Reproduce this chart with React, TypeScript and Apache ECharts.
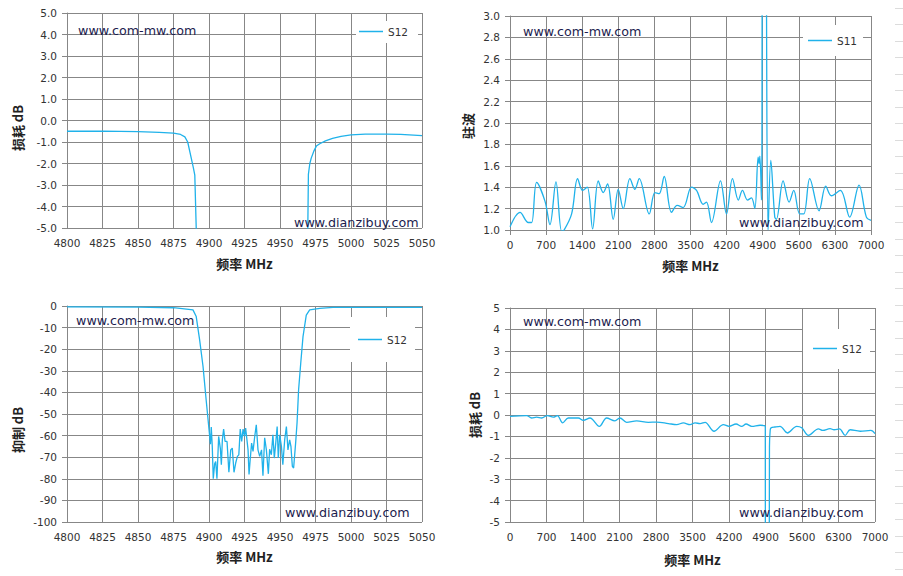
import React, { useEffect, useRef } from 'react';
import * as echarts from 'echarts';

// Chart 1: passband insertion loss (4800-5050 MHz)
const passFreq = [4800, 4825, 4850, 4865, 4875, 4880, 4883, 4885, 4887.5, 4889, 4890, 4891.2, 4900, 4960, 4969.5, 4970, 4971, 4972, 4974, 4975.6, 4978, 4982, 4987, 4993, 5000, 5010, 5025, 5035, 5050];
const passLoss = [-0.5, -0.49, -0.52, -0.55, -0.59, -0.65, -0.76, -1.0, -1.75, -2.2, -2.54, -5.5, -30, -30, -5.5, -2.5, -2.0, -1.75, -1.4, -1.19, -1.08, -0.95, -0.83, -0.74, -0.67, -0.63, -0.63, -0.65, -0.7];

// Chart 2: VSWR (0-7000 MHz)
const vswrFreq = [0, 194, 355, 420, 517, 678, 775, 891, 1001, 1050, 1195, 1311, 1408, 1498, 1602, 1711, 1808, 1892, 2002, 2099, 2196, 2325, 2422, 2506, 2700, 2809, 2893, 2990, 3132, 3242, 3358, 3520, 3617, 3746, 3810, 3907, 4081, 4198, 4314, 4427, 4508, 4605, 4682, 4747, 4811, 4830, 4845, 4876, 4889, 4900, 4960, 4973, 5005, 5057, 5134, 5166, 5296, 5412, 5502, 5618, 5696, 5812, 5993, 6122, 6232, 6406, 6587, 6768, 6910, 7000];
const vswrValue = [1.03, 1.165, 1.07, 1.07, 1.445, 1.27, 1.05, 1.45, 0.99, 1.0, 1.15, 1.48, 1.37, 1.4, 1.01, 1.46, 1.35, 1.43, 1.1, 1.38, 1.2, 1.48, 1.38, 1.48, 1.15, 1.35, 1.34, 1.5, 1.165, 1.23, 1.21, 1.4, 1.37, 1.24, 1.26, 1.07, 1.46, 1.15, 1.48, 1.28, 1.37, 1.28, 1.3, 1.2, 1.68, 1.62, 1.69, 1.28, 3.2, 6, 6, 3.2, 1.0, 1.65, 1.12, 1.1, 1.46, 1.26, 1.37, 1.15, 1.15, 1.48, 1.18, 1.41, 1.32, 1.37, 1.12, 1.42, 1.12, 1.09];

// Chart 3: rejection (4800-5050 MHz)
const rejFreq = [4800, 4850, 4875, 4888.7, 4891, 4893.4, 4895.8, 4898, 4900, 4901, 4901.6, 4902.3, 4903, 4904, 4904.7, 4905.6, 4906.8, 4908, 4908.7, 4909.4, 4910.3, 4911.3, 4912.7, 4914, 4915.3, 4916.4, 4917.6, 4918.8, 4920, 4921, 4922, 4923, 4924, 4925, 4925.8, 4927.5, 4928.2, 4929, 4930, 4931, 4932.2, 4933.3, 4934.5, 4935.7, 4937, 4938, 4939.2, 4940.4, 4941.8, 4942.7, 4943.9, 4945, 4946, 4947, 4948, 4948.8, 4949.8, 4951, 4952, 4953.3, 4954.5, 4955.6, 4956.8, 4957.7, 4958.7, 4959.6, 4961, 4962, 4963.1, 4964.6, 4966.2, 4968.5, 4970.9, 4978, 4987.3, 5050];
const rejDb = [-0.4, -0.5, -0.8, -1.8, -4.9, -15.7, -28, -43.5, -57, -64, -56, -65, -80, -73, -72, -80, -60.4, -66, -73.5, -62, -57, -62.7, -62.7, -77, -66.6, -65.8, -77, -72.7, -69.6, -68.9, -57, -62.7, -57, -60.4, -56.5, -66.6, -78, -71.2, -63.5, -67.3, -60.4, -55, -66.6, -69.6, -66.6, -78.6, -61, -66.6, -77.7, -66.3, -68.9, -59.6, -70.4, -63.5, -55.8, -70.4, -59.6, -65, -73.5, -62, -55.8, -66.6, -62, -65, -74.2, -75, -63.5, -54.2, -38.8, -26.5, -14.2, -4.2, -1.8, -1.1, -0.6, -0.6];

// Chart 4: wideband insertion loss (0-7000 MHz)
const wideFreq = [0, 320, 415, 511, 607, 716, 831, 908, 1010, 1119, 1311, 1406, 1534, 1713, 1853, 2013, 2109, 2237, 2429, 2653, 2813, 3037, 3197, 3325, 3453, 3549, 3645, 3741, 3913, 4092, 4201, 4335, 4444, 4527, 4636, 4796, 4885, 4896, 4898, 4960, 4972, 4976, 4990, 5006, 5083, 5179, 5320, 5499, 5595, 5723, 5915, 5998, 6139, 6216, 6319, 6428, 6524, 6716, 6921, 7000];
const wideLoss = [-0.06, -0.03, -0.14, -0.1, -0.14, -0.03, -0.1, -0.03, -0.37, -0.14, -0.14, -0.25, -0.14, -0.53, -0.14, -0.27, -0.14, -0.34, -0.27, -0.34, -0.33, -0.4, -0.45, -0.37, -0.45, -0.37, -0.4, -0.34, -0.76, -0.45, -0.53, -0.42, -0.53, -0.42, -0.53, -0.48, -0.5, -0.6, -8, -20, -8, -1.5, -0.7, -0.6, -0.56, -0.53, -0.84, -0.53, -0.6, -0.95, -0.65, -0.72, -0.64, -0.69, -0.65, -0.95, -0.69, -0.76, -0.72, -0.87];

const seriesNames = ['S12', 'S11', 'S12', 'S12'];
const yNames = ['损耗 dB', '驻波', '抑制 dB', '损耗 dB'];
const xName = '频率 MHz';
const watermarkTop = 'www.com-mw.com';
const watermarkBottom = 'www.dianzibuy.com';

const LINE = '#20b2ea';
const GRID = '#878787';
const FONT = 'DejaVu Sans, Verdana, sans-serif';
const CJK = 'Noto Sans CJK SC, sans-serif';

const zip = (xs: number[], ys: number[]) => xs.map((x, i) => [x, ys[i]]);

export default function App() {
  const ref = useRef<HTMLDivElement>(null);
  useEffect(() => {
    if (!ref.current) return;
    const chart = echarts.init(ref.current, null, { renderer: 'svg' });

    const grids = [
      { left: 67, top: 13, width: 355, height: 215 },
      { left: 510, top: 16, width: 361, height: 214 },
      { left: 67, top: 306, width: 355, height: 216 },
      { left: 510, top: 308, width: 365, height: 214 },
    ];
    const xRanges = [
      [4800, 5050, 25],
      [0, 7000, 700],
      [4800, 5050, 25],
      [0, 7000, 700],
    ];
    const yRanges = [
      [-5, 5, 1],
      [1, 3, 0.2],
      [-100, 0, 10],
      [-5, 5, 1],
    ];
    const yDigits = [1, 1, 0, 0];
    const yNameGaps = [43, 36, 43, 29];
    const yNameShift = [15, 6, 32, 0];
    const xNameGaps = [29, 29, 28, 31];

    const axisLine = { show: true, lineStyle: { color: GRID, width: 1 } };
    const axisTick = { show: true, length: 5, lineStyle: { color: GRID, width: 1 } };
    const splitLine = { show: true, lineStyle: { color: GRID, width: 1 } };
    const labelStyle = { color: '#333', fontSize: 10.5, fontFamily: FONT };
    const nameStyle = { color: '#222', fontSize: 13, fontWeight: 'bold' as const, fontFamily: CJK };

    const xAxis = xRanges.map((r, i) => ({
      type: 'value' as const,
      gridIndex: i,
      min: r[0],
      max: r[1],
      interval: r[2],
      name: xName,
      nameLocation: 'middle' as const,
      nameGap: xNameGaps[i],
      nameTextStyle: nameStyle,
      axisLine,
      axisTick,
      splitLine,
      axisLabel: { ...labelStyle, margin: 9, formatter: (v: number) => String(Math.round(v)) },
    }));

    const yAxis = yRanges.map((r, i) => ({
      type: 'value' as const,
      gridIndex: i,
      min: r[0],
      max: r[1],
      interval: r[2],
      name: yNames[i],
      nameLocation: 'middle' as const,
      nameGap: yNameGaps[i],
      nameTextStyle: { ...nameStyle, padding: [0, yNameShift[i], 0, 0] },
      axisLine,
      axisTick,
      splitLine,
      axisLabel: { ...labelStyle, margin: 10, formatter: (v: number) => v.toFixed(yDigits[i]) },
    }));

    const datasets = [
      zip(passFreq, passLoss),
      zip(vswrFreq, vswrValue),
      zip(rejFreq, rejDb),
      zip(wideFreq, wideLoss),
    ];
    const smooth = [false, 0.35, false, 0.35];

    const series = datasets.map((d, i) => ({
      type: 'line' as const,
      name: seriesNames[i],
      xAxisIndex: i,
      yAxisIndex: i,
      data: d,
      showSymbol: false,
      symbol: 'none',
      smooth: smooth[i],
      clip: true,
      color: LINE,
      lineStyle: { color: LINE, width: 1.3 },
    }));

    const legendPos = [
      { left: 356, top: 21, padding: [5, 10, 6, 3] },
      { left: 803, top: 25, padding: [10, 6, 10, 5] },
      { left: 350, top: 317, padding: [17, 8, 17, 8] },
      { left: 803, top: 329, padding: [14, 8, 15, 10] },
    ];
    const legend = legendPos.map((p, i) => ({
      ...p,
      data: [seriesNames[i]],
      icon: 'rect',
      itemWidth: 24,
      itemHeight: 1.5,
      itemGap: 0,
      backgroundColor: '#fff',
      selectedMode: false,
      textStyle: { color: '#333', fontSize: 10.5, fontFamily: FONT },
    }));

    const marks = [
      { x: 78, y: 30, t: watermarkTop },
      { x: 294, y: 222, t: watermarkBottom },
      { x: 523, y: 31, t: watermarkTop },
      { x: 739, y: 222, t: watermarkBottom },
      { x: 76, y: 320, t: watermarkTop },
      { x: 285, y: 512, t: watermarkBottom },
      { x: 523, y: 321, t: watermarkTop },
      { x: 739, y: 512, t: watermarkBottom },
    ];
    const graphic: any[] = marks.map((m) => ({
      type: 'text',
      x: m.x,
      y: m.y,
      z: 10,
      style: {
        text: m.t,
        fill: '#1c1c4e',
        font: `12.7px ${FONT}`,
        verticalAlign: 'middle',
      },
    }));
    // faint spreadsheet cell borders at the right edge of the page
    for (let y = 7.5; y < 576; y += 16.5) {
      graphic.push({
        type: 'line',
        shape: { x1: 895, y1: Math.round(y) + 0.5, x2: 903, y2: Math.round(y) + 0.5 },
        style: { stroke: '#dcdcdc', lineWidth: 1 },
        silent: true,
      });
    }

    chart.setOption({
      animation: false,
      backgroundColor: '#fff',
      grid: grids,
      xAxis,
      yAxis,
      legend,
      series,
      graphic,
    });
    return () => chart.dispose();
  }, []);

  return (
    <div
      ref={ref}
      style={{ position: 'absolute', left: 0, top: 0, width: 903, height: 576, background: '#fff' }}
    />
  );
}
